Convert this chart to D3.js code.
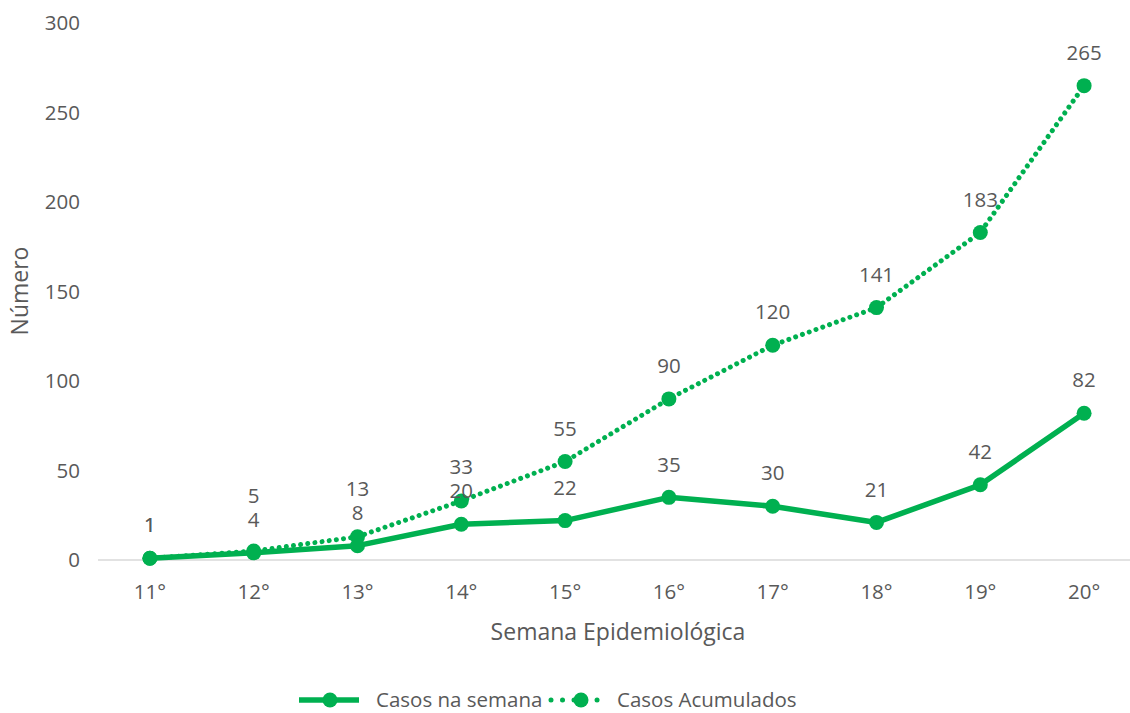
<!DOCTYPE html>
<html><head><meta charset="utf-8">
<script src="https://cdn.jsdelivr.net/npm/d3@7"></script>
<style>body{margin:0;background:#fff}svg{display:block}text{font-family:"Open Sans",sans-serif;fill:#595959}</style>
</head><body><svg id="c" width="1130" height="713"></svg>
<script>
const categories = ["11°","12°","13°","14°","15°","16°","17°","18°","19°","20°"];
const casosSemana = [1,4,8,20,22,35,30,21,42,82];
const casosAcumulados = [1,5,13,33,55,90,120,141,183,265];
const yTicks = [0,50,100,150,200,250,300];
const seriesNames = ["Casos na semana","Casos Acumulados"];

const green = "#00b050";
const fs = 20.5, fsTitle = 23;
const svg = d3.select("#c");
const x = d3.scalePoint().domain(categories).range([98,1136]).padding(0.5);
const y = d3.scaleLinear().domain([0,300]).range([560,23]);

// y tick labels
svg.append("g").selectAll("text").data(yTicks).join("text")
  .attr("x",80).attr("y",d=>y(d)).attr("dy","0.35em").attr("text-anchor","end")
  .attr("font-size",fs).text(d=>d);
// x axis line
svg.append("line").attr("x1",98).attr("x2",1130).attr("y1",y(0)).attr("y2",y(0))
  .attr("stroke","#d9d9d9").attr("stroke-width",1.3);
// x tick labels
svg.append("g").selectAll("text").data(categories).join("text")
  .attr("x",d=>x(d)).attr("y",592).attr("dy","0.35em").attr("text-anchor","middle")
  .attr("font-size",fs).text(d=>d);
// titles
svg.append("text").attr("x",618).attr("y",632).attr("dy","0.35em").attr("text-anchor","middle")
  .attr("font-size",fsTitle).text("Semana Epidemiológica");
svg.append("text").attr("transform","translate(20,291) rotate(-90)").attr("dy","0.35em")
  .attr("text-anchor","middle").attr("font-size",fsTitle).text("Número");

const line = d3.line().x((d,i)=>x(categories[i])).y(d=>y(d));
// accumulated dotted
svg.append("path").datum(casosAcumulados).attr("d",line).attr("fill","none")
  .attr("stroke",green).attr("stroke-width",5).attr("stroke-linecap","round")
  .attr("stroke-dasharray","0.01 7.2");
svg.append("g").selectAll("circle").data(casosAcumulados).join("circle")
  .attr("cx",(d,i)=>x(categories[i])).attr("cy",d=>y(d)).attr("r",7.5).attr("fill",green);
// weekly solid
svg.append("path").datum(casosSemana).attr("d",line).attr("fill","none")
  .attr("stroke",green).attr("stroke-width",5.5).attr("stroke-linejoin","round");
svg.append("g").selectAll("circle").data(casosSemana).join("circle")
  .attr("cx",(d,i)=>x(categories[i])).attr("cy",d=>y(d)).attr("r",7.5).attr("fill",green);

// labels (accumulated labels pushed up when they would collide with weekly ones)
const off = 33, gap = 24;
const semLabelY = casosSemana.map(d=>y(d)-off);
const accLabelY = casosAcumulados.map((d,i)=> d===casosSemana[i] ? y(d)-off : Math.min(y(d)-off, semLabelY[i]-gap));
svg.append("g").selectAll("text").data(casosAcumulados).join("text")
  .attr("x",(d,i)=>x(categories[i])).attr("y",(d,i)=>accLabelY[i]).attr("dy","0.35em")
  .attr("text-anchor","middle").attr("font-size",fs).text(d=>d);
svg.append("g").selectAll("text").data(casosSemana).join("text")
  .attr("x",(d,i)=>x(categories[i])).attr("y",(d,i)=>semLabelY[i]).attr("dy","0.35em")
  .attr("text-anchor","middle").attr("font-size",fs).text(d=>d);

// legend
const lg = svg.append("g");
lg.append("line").attr("x1",299).attr("x2",359).attr("y1",700).attr("y2",700)
  .attr("stroke",green).attr("stroke-width",5.5);
lg.append("circle").attr("cx",330).attr("cy",700).attr("r",7.5).attr("fill",green);
lg.append("text").attr("x",376).attr("y",700).attr("dy","0.35em").attr("font-size",fs).text(seriesNames[0]);
lg.append("line").attr("x1",551).attr("x2",604).attr("y1",700).attr("y2",700)
  .attr("stroke",green).attr("stroke-width",5).attr("stroke-linecap","round").attr("stroke-dasharray","0.01 11.5");
lg.append("circle").attr("cx",581).attr("cy",700).attr("r",7.5).attr("fill",green);
lg.append("text").attr("x",617).attr("y",700).attr("dy","0.35em").attr("font-size",fs).text(seriesNames[1]);
</script></body></html>
